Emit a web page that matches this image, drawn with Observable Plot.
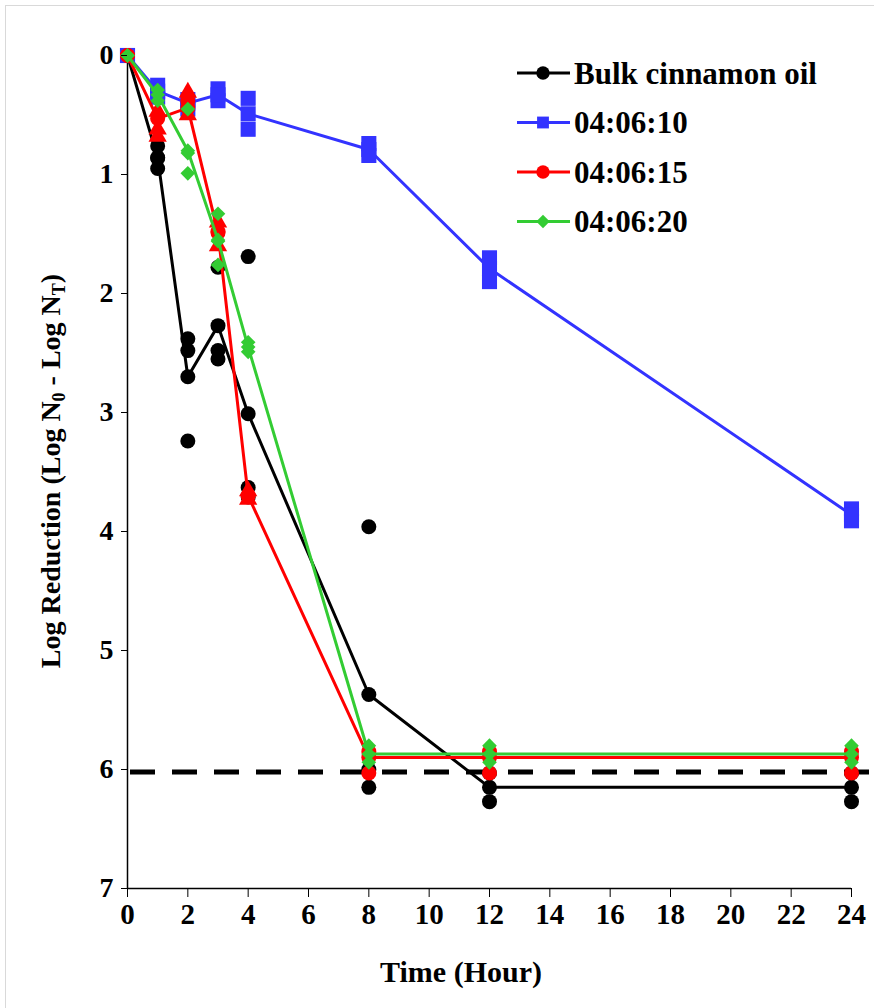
<!DOCTYPE html>
<html><head><meta charset="utf-8">
<script src="https://cdn.jsdelivr.net/npm/d3@7"></script>
<script src="https://cdn.jsdelivr.net/npm/@observablehq/plot@0.6"></script>
<style>
body{margin:0;background:#fff;}
#frame{position:absolute;left:5px;top:5px;width:869px;height:1003px;border-left:1.5px solid #d9d9d9;border-top:1.5px solid #d9d9d9;}
#chart{position:absolute;left:0;top:0;}
#legend{position:absolute;left:510px;top:50px;}
</style></head><body><div id="frame"></div><div id="chart"></div><div id="legend"></div>
<script>
const times = [0, 1, 2, 3, 4, 8, 12, 24];
const xTicks = [0, 2, 4, 6, 8, 10, 12, 14, 16, 18, 20, 22, 24];
const yTicks = [0, 1, 2, 3, 4, 5, 6, 7];
const seriesNames = ["Bulk cinnamon oil", "04:06:10", "04:06:15", "04:06:20"];
const seriesColors = ["#000000", "#3333ff", "#ff0000", "#33cc33"];
const seriesSymbols = ["circle", "square", "circle", "diamond2"];
const detectionLimit = 6.02;

// means (line vertices)
const bulkMean = [0, 0.86, 2.70, 2.27, 3.01, 5.37, 6.15, 6.15];
const f10Mean  = [0, 0.30, 0.40, 0.33, 0.49, 0.79, 1.79, 3.86];
const f15Mean  = [0, 0.53, 0.44, 1.49, 3.70, 5.90, 5.90, 5.90];
const f20Mean  = [0, 0.33, 0.80, 1.55, 2.45, 5.87, 5.87, 5.87];

// replicate points
const bulkReps = [[0], [0.76, 0.86, 0.95], [2.38, 2.48, 3.24], [1.78, 2.48, 2.55], [1.69, 3.63, 3.71], [3.96, 6.00, 6.15], [6.03, 6.27], [6.03, 6.27]];
const f10Reps  = [[0], [0.25, 0.35], [0.37, 0.45], [0.28, 0.38], [0.36, 0.62], [0.74, 0.84], [1.70, 1.90], [3.81, 3.91]];
const f15TriReps = [[], [0.47, 0.62, 0.68], [0.31, 0.50], [1.40, 1.60], [3.66, 3.73], [], [], []];
const f15CircReps = [[0], [], [0.38], [1.48], [], [5.85, 6.03], [5.85, 6.03], [5.85, 6.03]];
const f20Reps  = [[0], [0.29, 0.38], [0.45, 0.82, 0.99], [1.33, 1.56, 1.76], [2.41, 2.49], [5.80, 5.94], [5.80, 5.94], [5.80, 5.94]];

const meanArrays = [bulkMean, f10Mean, f15Mean, f20Mean];
const toRows = (arr) => times.map((t, i) => ({t, v: arr[i]}));
const repRows = (reps) => times.flatMap((t, i) => reps[i].map(v => ({t, v})));

const font = "Liberation Serif, Times New Roman, serif";
const symR = {circle: 7.5, square: 8.5, triangle: 6.8, diamond2: 6.6};

const marks = [];
marks.push(Plot.ruleX([0], {stroke: "#000", strokeWidth: 1.5}));
marks.push(Plot.ruleY([7], {stroke: "#000", strokeWidth: 1.5}));
marks.push(Plot.ruleY([detectionLimit], {stroke: "#000", strokeWidth: 5, strokeDasharray: "25,17", strokeDashoffset: -3, insetRight: -23}));

const repSets = [
  [repRows(bulkReps), 0, "circle"],
  [repRows(f10Reps), 1, "square"],
  [repRows(f15CircReps), 2, "circle"],
  [repRows(f15TriReps), 2, "triangle"],
  [repRows(f20Reps), 3, "diamond2"]
];
for (const s of [0, 1, 2, 3]) {
  marks.push(Plot.line(toRows(meanArrays[s]), {x: "t", y: "v", stroke: seriesColors[s], strokeWidth: 3}));
  for (const [rows, si, sym] of repSets) {
    if (si !== s) continue;
    marks.push(Plot.dot(rows, {x: "t", y: "v", fill: seriesColors[s], symbol: sym, r: symR[sym]}));
  }
  marks.push(Plot.dot(toRows(meanArrays[s]), {x: "t", y: "v", fill: seriesColors[s], symbol: seriesSymbols[s], r: symR[seriesSymbols[s]]}));
}

marks.push(Plot.axisY({ticks: yTicks, tickSize: 6, tickPadding: 8, label: null, tickFormat: d => d, fontSize: 28, fontWeight: "bold", fontFamily: font}));
marks.push(Plot.axisX({ticks: xTicks, tickSize: 9, tickPadding: 6, label: null, tickFormat: d => d, fontSize: 29, fontWeight: "bold", fontFamily: font}));

const chart = Plot.plot({
  width: 874,
  height: 1008,
  marginLeft: 127,
  marginRight: 23,
  marginTop: 55,
  marginBottom: 120,
  x: {domain: [0, 24]},
  y: {domain: [0, 7], reverse: true},
  style: {fontFamily: font, color: "#000", background: "transparent", overflow: "visible"},
  marks
});
document.getElementById("chart").appendChild(chart);

const svg = d3.select(chart);
svg.append("text").attr("x", 461).attr("y", 982).attr("text-anchor", "middle")
  .attr("font-family", font).attr("font-weight", "bold").attr("font-size", 30).attr("fill", "#000")
  .text("Time (Hour)");
const yt = svg.append("text").attr("transform", "translate(60,471) rotate(-90)").attr("text-anchor", "middle")
  .attr("font-family", font).attr("font-weight", "bold").attr("font-size", 28).attr("fill", "#000");
yt.append("tspan").text("Log Reduction (Log N");
yt.append("tspan").attr("font-size", 18).attr("dy", 5).text("0");
yt.append("tspan").attr("dy", -5).text(" - Log N");
yt.append("tspan").attr("font-size", 18).attr("dy", 5).text("T");
yt.append("tspan").attr("dy", -5).text(")");

const lg = d3.select("#legend").append("svg").attr("width", 364).attr("height", 200);
seriesNames.forEach((name, i) => {
  const cy = 23 + i * 49.5;
  const g = lg.append("g").attr("transform", `translate(0,${cy})`);
  g.append("line").attr("x1", 7).attr("x2", 60).attr("y1", 0).attr("y2", 0).attr("stroke", seriesColors[i]).attr("stroke-width", 3);
  const symMap = {circle: d3.symbolCircle, square: d3.symbolSquare, diamond2: d3.symbolSquare};
  const size = seriesSymbols[i] === "diamond2" ? 90 : 140;
  g.append("path").attr("d", d3.symbol(symMap[seriesSymbols[i]], size)())
    .attr("transform", `translate(33,0)${seriesSymbols[i] === "diamond2" ? " rotate(45)" : ""}`)
    .attr("fill", seriesColors[i]);
  g.append("text").attr("x", 64).attr("y", 10.5).attr("font-family", font).attr("font-weight", "bold")
    .attr("font-size", 31).attr("fill", "#000").text(name);
});
</script></body></html>
